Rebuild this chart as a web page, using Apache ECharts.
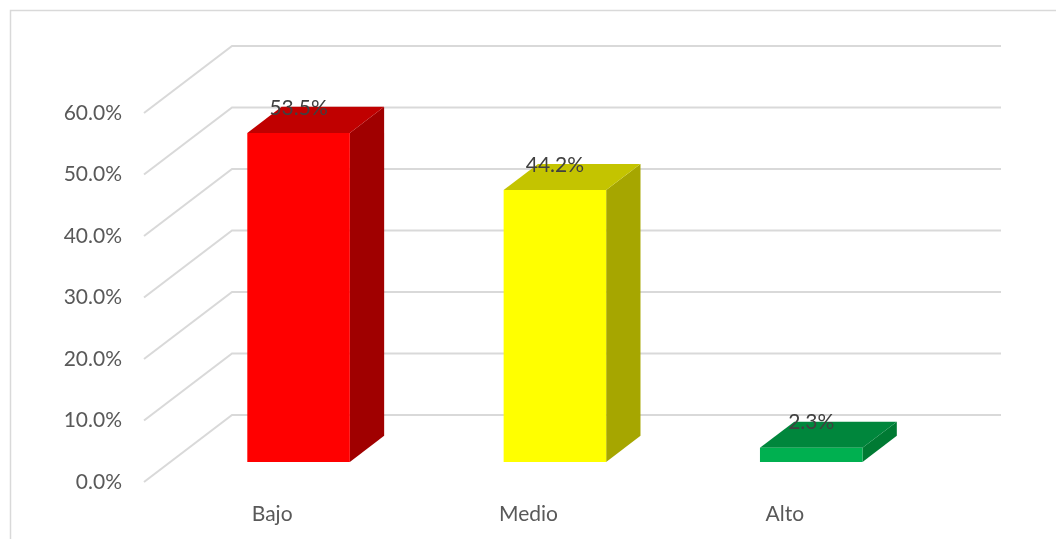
<!DOCTYPE html>
<html><head><meta charset="utf-8">
<script src="https://cdn.jsdelivr.net/npm/echarts@6/dist/echarts.min.js"></script>
<style>html,body{margin:0;padding:0;background:#fff}#c{width:1056px;height:539px}</style>
</head><body><div id="c"></div>
<script>
const categories = ['Bajo', 'Medio', 'Alto'];
const values = [0.535, 0.442, 0.023];
const yTicks = [0, 0.1, 0.2, 0.3, 0.4, 0.5, 0.6];
const frontColors = ['#FF0000', '#FFFF00', '#00B050'];
const topColors = ['#C00000', '#C4C400', '#00863C'];
const sideColors = ['#A00000', '#A6A600', '#007A33'];

const DEPTH_X = 88, DEPTH_Y = -67;
const BAR_T0 = 0.3, BAR_T1 = 0.69;
const FONT = 'Lato';

function gridItem(params, api) {
  const cs = params.coordSys;
  const y = api.coord([0, api.value(1)])[1];
  const x0 = cs.x, x1 = cs.x + cs.width;
  return {
    type: 'polyline', silent: true,
    shape: { points: [[x0, y], [x0 + DEPTH_X, y + DEPTH_Y], [x1 + DEPTH_X, y + DEPTH_Y]] },
    style: { stroke: '#D9D9D9', lineWidth: 2, fill: null }
  };
}

function barItem(params, api) {
  const i = params.dataIndex;
  const v = api.value(1);
  const base = api.coord([i, 0]);
  const top = api.coord([i, v]);
  const bw = api.size([1, 0])[0] * 0.4;
  const ox = DEPTH_X * BAR_T0, oy = DEPTH_Y * BAR_T0;
  const dx = DEPTH_X * (BAR_T1 - BAR_T0), dy = DEPTH_Y * (BAR_T1 - BAR_T0);
  const cx = base[0] + ox;
  const l = cx - bw / 2, r = cx + bw / 2, b = base[1] + oy, t = top[1] + oy;
  return {
    type: 'group',
    children: [
      { type: 'polygon', shape: { points: [[r, t], [r + dx, t + dy], [r + dx, b + dy], [r, b]] }, style: { fill: sideColors[i] } },
      { type: 'polygon', shape: { points: [[l, t], [r, t], [r + dx, t + dy], [l + dx, t + dy]] }, style: { fill: topColors[i] } },
      { type: 'rect', shape: { x: l, y: t, width: bw, height: b - t }, style: { fill: frontColors[i] } },
      { type: 'text', x: cx, y: t + dy + 1, style: { text: (v * 100).toFixed(1) + '%', fill: '#404040', font: '21px ' + FONT, align: 'center', verticalAlign: 'middle' } }
    ]
  };
}

const chart = echarts.init(document.getElementById('c'), null, { renderer: 'canvas' });
chart.setOption({
  animation: false,
  backgroundColor: '#ffffff',
  graphic: [{
    type: 'rect', silent: true, z: -10,
    shape: { x: 10.5, y: 10.5, width: 1200, height: 700 },
    style: { fill: null, stroke: '#D9D9D9', lineWidth: 1.5 }
  }],
  grid: { left: 144, right: 143, top: 113, bottom: 57, containLabel: false },
  xAxis: {
    type: 'category', data: categories,
    axisLine: { show: false }, axisTick: { show: false }, splitLine: { show: false },
    axisLabel: { color: '#595959', fontSize: 21, fontFamily: FONT, margin: 22 }
  },
  yAxis: {
    type: 'value', min: 0, max: 0.6, interval: 0.1,
    axisLine: { show: false }, axisTick: { show: false }, splitLine: { show: false },
    axisLabel: { color: '#595959', fontSize: 21, fontFamily: FONT, margin: 22, padding: [4, 0, 0, 0],
      formatter: v => (v * 100).toFixed(1) + '%' }
  },
  series: [
    { type: 'custom', renderItem: gridItem, data: yTicks.map(v => [0, v]), z: 1, silent: true },
    { type: 'custom', renderItem: barItem, data: values.map((v, i) => [i, v]), z: 2 }
  ]
});
</script>
</body></html>
